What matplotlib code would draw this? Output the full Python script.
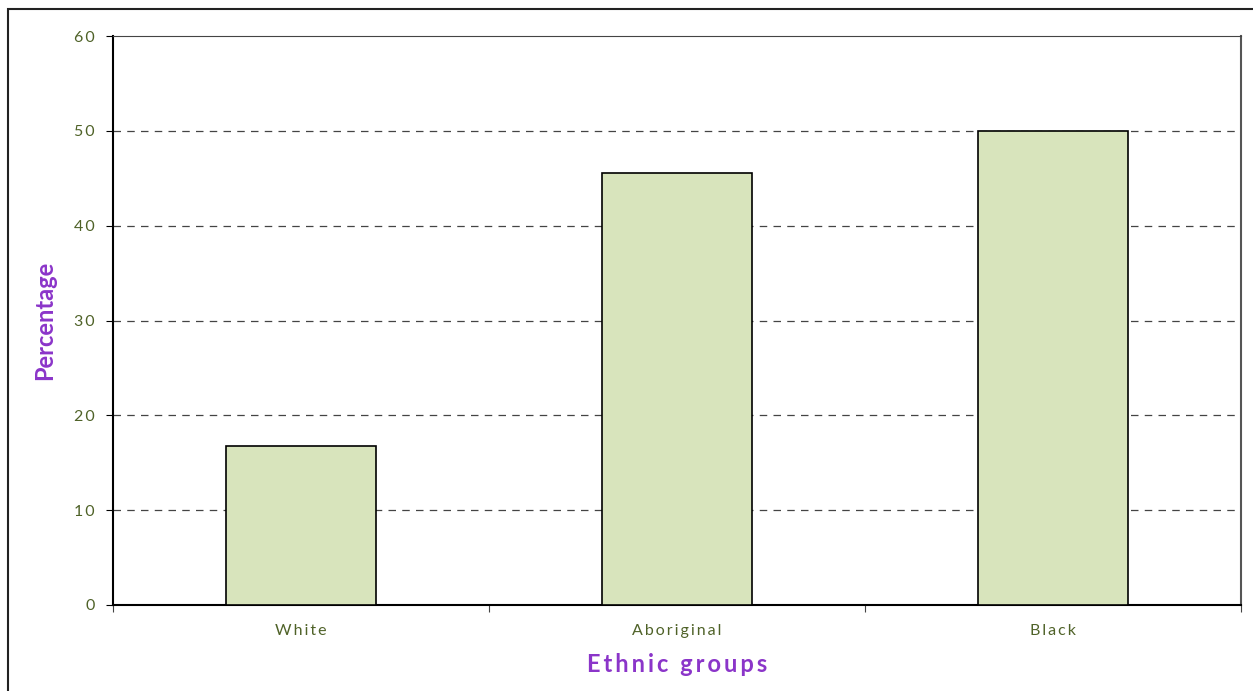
import matplotlib
matplotlib.use('Agg')
import matplotlib.pyplot as plt
from matplotlib.patches import Rectangle

groups = ['White', 'Aboriginal', 'Black']
percent = [16.8, 45.6, 50.0]
yticks = [0, 10, 20, 30, 40, 50, 60]

plt.rcParams['font.family'] = ['Lato', 'DejaVu Sans']


def spaced(s, gap='\u2009'):
    # the original labels are drawn with wide letter spacing
    return gap.join(s)


fig = plt.figure(figsize=(12.53, 6.91), dpi=100)
ax = fig.add_axes([113/1253, 86/691, 1128/1253, 569/691])

# outer frame of the chart area
fig.patches.append(Rectangle((8/1253, -0.05), 1.2, (691-9)/691 + 0.05,
                             transform=fig.transFigure, fill=False,
                             edgecolor='#222222', linewidth=1.5))

x = range(len(groups))
ax.bar(x, percent, width=0.4, color='#d8e4bc', edgecolor='black', linewidth=1.2, zorder=3)

ax.set_xlim(-0.5, len(groups) - 0.5)
ax.set_ylim(0, 60)
ax.set_yticks(yticks)
ax.set_yticklabels([spaced(str(v)) for v in yticks], color='#4f6228', fontsize=11.5)
ax.set_xticks([i - 0.5 for i in range(len(groups) + 1)])
ax.set_xticklabels([])
ax.set_xticks(list(x), minor=True)
ax.set_xticklabels([spaced(g) for g in groups], minor=True, color='#4f6228', fontsize=11.5)
ax.tick_params(axis='x', which='minor', length=0, pad=14)
ax.tick_params(axis='x', which='major', length=5, color='#444444')
ax.tick_params(axis='y', length=5, pad=8)

for v in yticks[1:-1]:
    ax.axhline(v, color='#444444', linestyle=(0, (6, 5)), linewidth=0.9, zorder=1)

ax.spines['left'].set_linewidth(1.5)
ax.spines['bottom'].set_linewidth(1.5)
ax.spines['top'].set_color('#444444')
ax.spines['right'].set_color('#555555')
ax.spines['right'].set_linewidth(1.5)

fig.text(45/1253, 1 - 320/691, 'Percentage', rotation=90, ha='center', va='center',
         color='#8b35c9', fontsize=17, fontweight='bold')
fig.text(677/1253, 1 - 665/691, spaced('Ethnic groups'), ha='center', va='center',
         color='#8b35c9', fontsize=17, fontweight='bold')

fig.savefig('out.png', dpi=100)
